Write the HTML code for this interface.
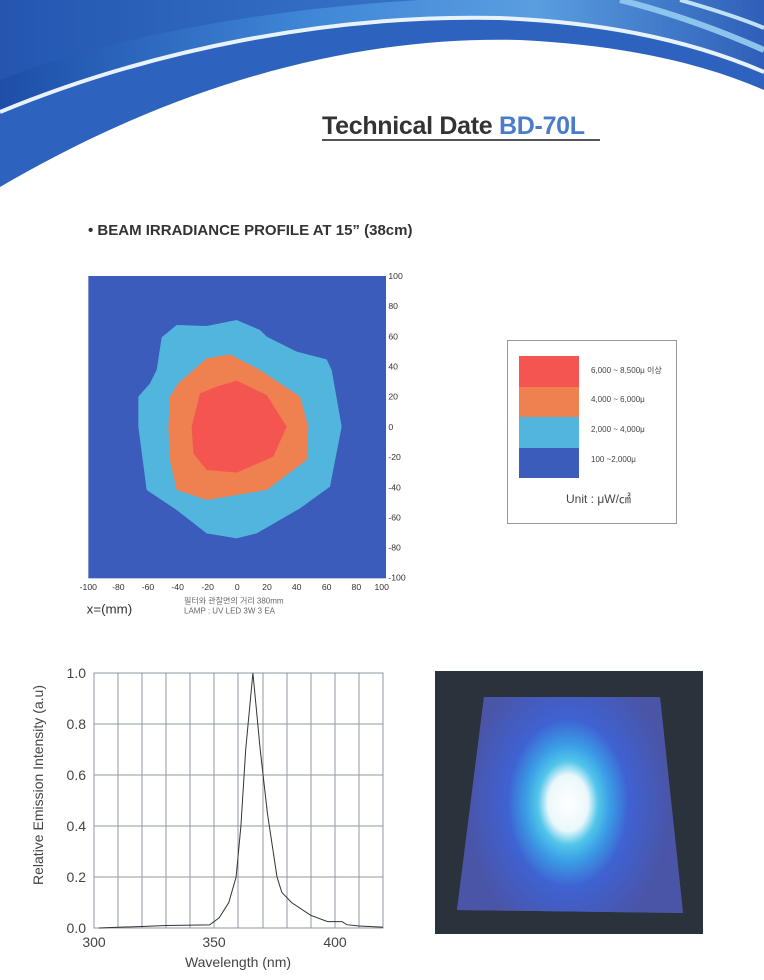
<!DOCTYPE html>
<html><head><meta charset="utf-8"><style>
html,body{margin:0;padding:0;background:#fff;}
body{width:764px;height:980px;position:relative;overflow:hidden;font-family:"Liberation Sans","Noto Sans CJK KR",sans-serif;}
.abs{position:absolute;}
</style></head><body>
<svg class="abs" style="left:0;top:0" width="764" height="200" viewBox="0 0 764 200">
<defs>
<linearGradient id="g1" x1="0" y1="0" x2="1" y2="0">
<stop offset="0" stop-color="#1d4ea8"/><stop offset="0.4" stop-color="#3f86d6"/><stop offset="0.7" stop-color="#5a9ee0"/><stop offset="1" stop-color="#2f5fb8"/></linearGradient>
</defs>
<path d="M0,0 H764 V90 C700,62 620,45 520,40 C380,36 200,70 0,187 Z" fill="#2d63be"/>
<path d="M0,0 H764 V72 C690,40 600,22 500,18 C330,14 150,50 0,112 Z" fill="url(#g1)"/>
<path d="M0,112 C150,50 330,14 500,18 C600,22 690,40 764,72" fill="none" stroke="#e8f2fb" stroke-width="4"/>
<path d="M0,0 H420 C250,10 100,40 0,80 Z" fill="#2a5cb5" opacity="0.6"/>
<path d="M620,0 C680,15 730,35 764,50" stroke="#8cc4ee" stroke-width="6" fill="none"/>
<path d="M680,0 C715,10 745,20 764,28" stroke="#bfe0f6" stroke-width="4" fill="none"/>
</svg>
<div class="abs" style="left:322px;top:112px;font-size:25px;font-weight:bold;color:#333;white-space:nowrap;letter-spacing:-0.3px;">Technical Date <span style="color:#4a7ccc">BD-70L</span></div>
<div class="abs" style="left:322px;top:139px;width:278px;height:2px;background:#555;"></div>
<div class="abs" style="left:88px;top:222px;font-size:15px;font-weight:bold;color:#333;white-space:nowrap;">• BEAM IRRADIANCE PROFILE AT 15” (38cm)</div>

<svg class="abs" style="left:60px;top:260px" width="360" height="370" viewBox="0 0 1080 1110">
<rect x="85" y="48" width="893" height="907" fill="#3b5cba"/>
<polygon fill="#52b5dd" points="305,232 350,195 440,198 530,180 600,210 620,230 710,275 800,298 815,330 845,500 810,680 720,745 590,820 530,835 440,820 350,750 260,690 235,500 235,410 270,370 290,330"/>
<polygon fill="#ef8050" points="330,410 355,370 440,295 510,283 600,330 720,410 745,500 740,600 620,690 440,720 350,690 330,600 325,500"/>
<polygon fill="#f45550" points="395,500 420,400 470,380 530,362 620,405 680,500 640,590 530,638 440,630 400,580"/>
<g font-size="26" fill="#333" font-family="Liberation Sans,sans-serif">
<text x="985" y="57">100</text><text x="985" y="147">80</text><text x="985" y="238">60</text><text x="985" y="328">40</text><text x="985" y="419">20</text><text x="985" y="510">0</text><text x="985" y="600">-20</text><text x="985" y="691">-40</text><text x="985" y="781">-60</text><text x="985" y="872">-80</text><text x="985" y="962">-100</text>
<g text-anchor="middle">
<text x="85" y="990">-100</text><text x="175" y="990">-80</text><text x="264" y="990">-60</text><text x="353" y="990">-40</text><text x="443" y="990">-20</text><text x="532" y="990">0</text><text x="621" y="990">20</text><text x="710" y="990">40</text><text x="800" y="990">60</text><text x="889" y="990">80</text><text x="965" y="990">100</text></g>
</g>
<text x="80" y="1060" font-size="40" fill="#333">x=(mm)</text>
<text x="372" y="1030" font-size="24" fill="#666">필터와 관찰면의 거리 380mm</text>
<text x="372" y="1060" font-size="24" fill="#666">LAMP : UV LED 3W 3 EA</text>
</svg>

<div class="abs" style="left:507px;top:340px;width:168px;height:182px;border:1px solid #999;"></div>
<div class="abs" style="left:519px;top:356px;width:60px;height:31px;background:#f45550"></div>
<div class="abs" style="left:519px;top:387px;width:60px;height:30px;background:#ef8050"></div>
<div class="abs" style="left:519px;top:417px;width:60px;height:31px;background:#52b5dd"></div>
<div class="abs" style="left:519px;top:448px;width:60px;height:30px;background:#3b5cba"></div>
<div class="abs" style="left:591px;top:365px;font-size:8px;color:#444;white-space:nowrap">6,000 ~ 8,500μ 이상</div>
<div class="abs" style="left:591px;top:395px;font-size:8px;color:#444;white-space:nowrap">4,000 ~ 6,000μ</div>
<div class="abs" style="left:591px;top:425px;font-size:8px;color:#444;white-space:nowrap">2,000 ~ 4,000μ</div>
<div class="abs" style="left:591px;top:455px;font-size:8px;color:#444;white-space:nowrap">100 ~2,000μ</div>
<div class="abs" style="left:566px;top:490px;font-size:12px;color:#444;white-space:nowrap">Unit : μW/㎠</div>

<svg class="abs" style="left:0;top:650px" width="420" height="330" viewBox="0 650 420 330">
<g stroke="#8e9aa4" stroke-width="1" fill="none">
<rect x="94" y="673" width="289" height="255"/>
<path d="M118,673V928M142,673V928M166,673V928M190,673V928M214,673V928M238,673V928M263,673V928M287,673V928M311,673V928M335,673V928M359,673V928"/>
<path d="M94,724H383M94,775H383M94,826H383M94,877H383"/>
</g>
<polyline fill="none" stroke="#333" stroke-width="1" points="98.8,928 118.1,927.2 142.2,926.5 166.2,925.5 209.6,924.9 219.2,917.8 228.8,902.5 236.1,877 240.9,826 245.7,749.5 252.9,673 260.2,749.5 267.4,813.2 277,877 281.8,892.3 291.5,902.5 310.7,915.3 327.6,921.6 342,921.6 346.8,924.7 358.9,926 383,927.2"/>
<g font-size="14" fill="#444" font-family="Liberation Sans,sans-serif">
<g text-anchor="end"><text x="86" y="678">1.0</text><text x="86" y="729">0.8</text><text x="86" y="780">0.6</text><text x="86" y="831">0.4</text><text x="86" y="882">0.2</text><text x="86" y="933">0.0</text></g>
<g text-anchor="middle"><text x="94" y="947">300</text><text x="214" y="947">350</text><text x="335" y="947">400</text>
<text x="238" y="967">Wavelength (nm)</text>
<text transform="translate(43,785) rotate(-90)">Relative Emission Intensity (a.u)</text></g>
</g>
</svg>

<svg class="abs" style="left:435px;top:671px" width="268" height="263" viewBox="435 671 268 263">
<defs>
<radialGradient id="sp" cx="568" cy="803" r="140" gradientUnits="userSpaceOnUse" gradientTransform="translate(568,803) scale(0.72,1) translate(-568,-803)">
<stop offset="0" stop-color="#ffffff"/><stop offset="0.2" stop-color="#eaf8fb"/><stop offset="0.3" stop-color="#52c6ea"/><stop offset="0.42" stop-color="#3a9de6"/><stop offset="0.6" stop-color="#3f62d2"/><stop offset="1" stop-color="#4a55a8"/></radialGradient>
</defs>
<rect x="435" y="671" width="268" height="263" fill="#2a333c"/>
<polygon points="484,697 660,697 683,913 457,910" fill="#4a55a8"/>
<polygon points="484,697 660,697 683,913 457,910" fill="url(#sp)"/>
</svg>
</body></html>
